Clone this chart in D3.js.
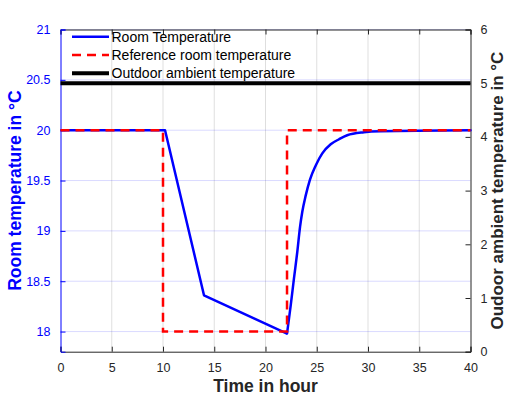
<!DOCTYPE html>
<html>
<head>
<meta charset="utf-8">
<script src="https://cdn.jsdelivr.net/npm/d3@7"></script>
<style>
  body { margin: 0; background: #fff; }
  svg { font-family: "Liberation Sans", Arial, Helvetica, sans-serif; }
</style>
</head>
<body>
<div id="chart"></div>
<script>
// room temperature (left axis, degC)
var roomTime = [0, 10.2, 14.0, 22.1, 22.46, 22.78, 23.1, 23.37, 23.59, 23.92, 24.34, 24.9, 25.54, 26.36, 27.17, 27.97, 29.6, 31.2, 40];
var roomTemp = [20, 20, 18.36, 17.98, 18.26, 18.53, 18.79, 19.04, 19.19, 19.35, 19.51, 19.65, 19.77, 19.86, 19.91, 19.95, 19.98, 19.99, 20];

// reference room temperature (left axis)
var refTime = [0, 10, 10, 22.1, 22.1, 40];
var refTemp = [20, 20, 18, 18, 20, 20];

// outdoor ambient temperature (right axis)
var outTime = [0, 40];
var outTemp = [5, 5];

var xTicks = [0, 5, 10, 15, 20, 25, 30, 35, 40];
var leftTicks = [18, 18.5, 19, 19.5, 20, 20.5, 21];
var rightTicks = [0, 1, 2, 3, 4, 5, 6];

var legendNames = ["Room Temperature", "Reference room temperature", "Outdoor ambient temperature"];

var width = 507, height = 396;
var margin = {top: 29.5, right: 36.5, bottom: 44.3, left: 60.5};
var w = width - margin.left - margin.right,
    h = height - margin.top - margin.bottom;

var BLUE = "#0000ff", DARK = "#262626";

var svg = d3.select("#chart").append("svg")
    .attr("width", width)
    .attr("height", height);

var g = svg.append("g")
    .attr("transform", "translate(" + margin.left + "," + margin.top + ")");

var x = d3.scaleLinear().domain([0, 40]).range([0, w]);
var yL = d3.scaleLinear().domain([17.8, 21]).range([h, 0]);
var yR = d3.scaleLinear().domain([0, 6]).range([h, 0]);

var plain = function(d) { return String(d); };

// grid
g.append("g").selectAll("line").data(xTicks.slice(1, -1)).enter().append("line")
    .attr("x1", function(d) { return x(d); })
    .attr("x2", function(d) { return x(d); })
    .attr("y1", 0).attr("y2", h)
    .style("stroke", "#000").style("stroke-opacity", 0.13).style("stroke-width", 1);

g.append("g").selectAll("line").data(leftTicks).enter().append("line")
    .attr("x1", 0).attr("x2", w)
    .attr("y1", function(d) { return yL(d); })
    .attr("y2", function(d) { return yL(d); })
    .style("stroke", BLUE).style("stroke-opacity", 0.15).style("stroke-width", 1);

// axes
var xAxis = g.append("g")
    .attr("transform", "translate(0," + h + ")")
    .call(d3.axisBottom(x).tickValues(xTicks).tickFormat(plain).tickSize(-5).tickPadding(11));
var xTop = g.append("g")
    .call(d3.axisTop(x).tickValues(xTicks).tickSize(-5).tickFormat(""));
var yAxisL = g.append("g")
    .call(d3.axisLeft(yL).tickValues(leftTicks).tickFormat(plain).tickSize(-5).tickPadding(10));
var yAxisR = g.append("g")
    .attr("transform", "translate(" + w + ",0)")
    .call(d3.axisRight(yR).tickValues(rightTicks).tickFormat(plain).tickSize(-5).tickPadding(10));

[xAxis, xTop].forEach(function(a) {
  a.selectAll("path, line").style("stroke", DARK);
  a.selectAll("text").style("fill", DARK);
});
yAxisL.selectAll("path, line").style("stroke", BLUE);
yAxisL.selectAll("text").style("fill", BLUE);
yAxisR.selectAll("path, line").style("stroke", DARK);
yAxisR.selectAll("text").style("fill", DARK);
g.selectAll(".tick text").style("font-size", "12.5px");
g.selectAll(".domain").style("stroke-width", 1);

// lines
var lineL = d3.line()
    .x(function(d) { return x(d[0]); })
    .y(function(d) { return yL(d[1]); });
var smoothL = d3.line()
    .x(function(d) { return x(d[0]); })
    .y(function(d) { return yL(d[1]); })
    .curve(d3.curveMonotoneX);
var lineR = d3.line()
    .x(function(d) { return x(d[0]); })
    .y(function(d) { return yR(d[1]); });

g.append("path")
    .datum(d3.zip(outTime, outTemp))
    .attr("d", lineR)
    .style("fill", "none").style("stroke", "#000").style("stroke-width", 4);

// straight cooling part up to the minimum, smooth recovery after it
var room = d3.zip(roomTime, roomTemp);
var iMin = d3.minIndex(roomTemp);
g.append("path")
    .datum(room.slice(0, iMin + 1))
    .attr("d", lineL)
    .style("fill", "none").style("stroke", BLUE).style("stroke-width", 2.5)
    .style("stroke-linejoin", "round");
g.append("path")
    .datum(room.slice(iMin))
    .attr("d", smoothL)
    .style("fill", "none").style("stroke", BLUE).style("stroke-width", 2.5)
    .style("stroke-linecap", "round");

g.append("path")
    .datum(d3.zip(refTime, refTemp))
    .attr("d", lineL)
    .style("fill", "none").style("stroke", "#ff0000").style("stroke-width", 2.5)
    .style("stroke-dasharray", "9,6");

// legend
var legendStyles = [
  {color: BLUE, width: 2.5, dash: null},
  {color: "#ff0000", width: 2.5, dash: "9,6"},
  {color: "#000", width: 4, dash: null}
];
var legend = svg.append("g");
legendNames.forEach(function(name, i) {
  var ly = 36.7 + i * 18.3;
  legend.append("line")
      .attr("x1", 72).attr("x2", 109)
      .attr("y1", ly).attr("y2", ly)
      .style("stroke", legendStyles[i].color)
      .style("stroke-width", legendStyles[i].width)
      .style("stroke-dasharray", legendStyles[i].dash);
  legend.append("text")
      .attr("x", 111.5).attr("y", ly)
      .attr("dy", "0.35em")
      .style("font-size", "14px")
      .style("fill", "#000")
      .text(name);
});

// axis titles
svg.append("text")
    .attr("x", margin.left + w / 2).attr("y", 391.5)
    .attr("text-anchor", "middle")
    .style("font-size", "17.5px").style("font-weight", "bold").style("fill", DARK)
    .text("Time in hour");

svg.append("text")
    .attr("transform", "translate(21," + (margin.top + h / 2) + ") rotate(-90)")
    .attr("text-anchor", "middle")
    .style("font-size", "17.5px").style("font-weight", "bold").style("fill", BLUE)
    .text("Room temperature in °C");

svg.append("text")
    .attr("transform", "translate(503," + (margin.top + h / 2) + ") rotate(-90)")
    .attr("text-anchor", "middle")
    .style("font-size", "17px").style("font-weight", "bold").style("fill", DARK)
    .text("Oudoor ambient temperature in °C");
</script>
</body>
</html>
